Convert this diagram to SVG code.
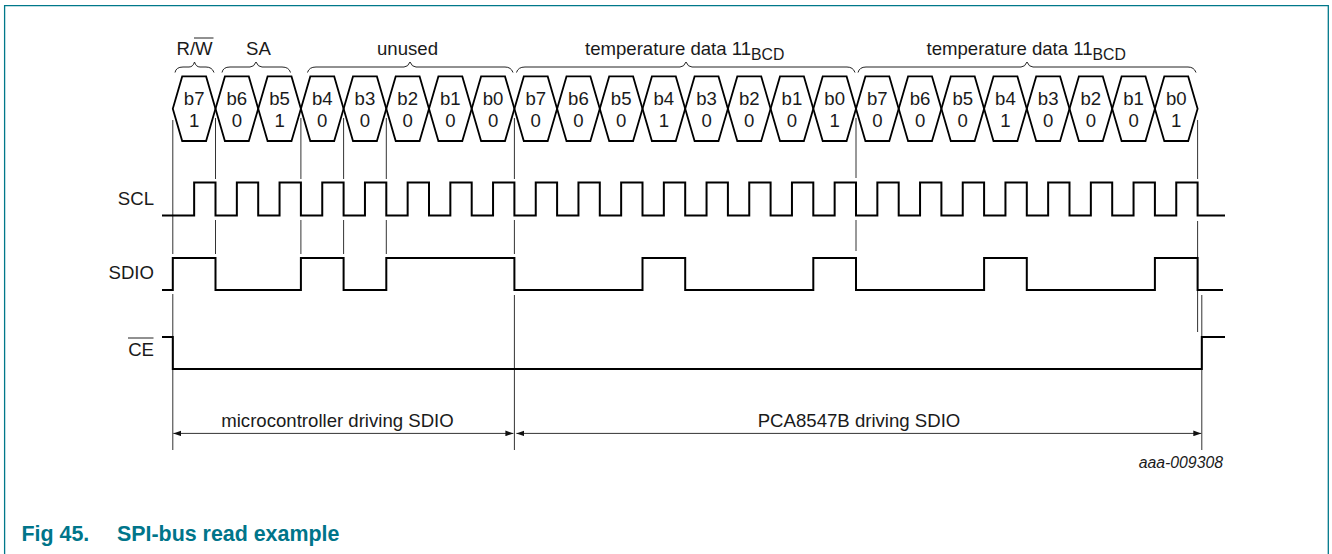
<svg xmlns="http://www.w3.org/2000/svg" width="1332" height="554" viewBox="0 0 1332 554">
<style>
text{font-family:"Liberation Sans",Arial,sans-serif;font-size:18.6px;fill:#1a1a1a}
.b{text-anchor:middle}
.r{text-anchor:end}
.sub{font-size:15.8px}
.sig{fill:none;stroke:#000;stroke-width:2}
.hex{fill:none;stroke:#000;stroke-width:1.8;stroke-linejoin:miter}
.g{fill:none;stroke:#333;stroke-width:1}
.br{fill:none;stroke:#222;stroke-width:1}
.ov{fill:none;stroke:#222;stroke-width:1}
.dim{fill:none;stroke:#333;stroke-width:1}
.frame{fill:none;stroke:#00788a;stroke-width:1.3}
.cap{font-size:21.4px;font-weight:bold;fill:#00758a}
.ref{font-size:15.8px;font-style:italic}
</style>
<defs>
<polygon id="hex" class="hex" points="0,32.3 9.4,0 33.3,0 42.7,32.3 33.3,64.6 9.4,64.6"/>
<marker id="ah" markerUnits="userSpaceOnUse" markerWidth="9" markerHeight="6" refX="8" refY="3" orient="auto-start-reverse"><path d="M0 0.2L8 3L0 5.8Z" fill="#111"/></marker>
</defs>
<path id="frame" class="frame" d="M4.6 554V5.6H1328.3V554"/>
<g id="connectors">
<path class="g" d="M172.8 120V254M172.8 294V450"/>
<path class="g" d="M215.5 118V179M215.5 220V254"/>
<path class="g" d="M300.9 118V179M300.9 220V254"/>
<path class="g" d="M343.6 118V179M343.6 220V254"/>
<path class="g" d="M386.3 118V179M386.3 220V254"/>
<path class="g" d="M514.4 118V179M514.4 220V254M514.4 295V450"/>
<path class="g" d="M856 118V178M856 220V251"/>
<path class="g" d="M1197.6 120V179M1197.6 221V332"/>
<path class="g" d="M1201.8 295V450"/>
<path class="dim" d="M173.3 433.4H513.4" marker-start="url(#ah)" marker-end="url(#ah)"/>
<path class="dim" d="M516.4 433.4H1201.3" marker-start="url(#ah)" marker-end="url(#ah)"/>
<path class="br" d="M175 72.5Q176 67 183 67H189Q193 67 194.5 62Q196 67 200 67H206Q212 67 214 72.5"/>
<path class="br" d="M222 72.5Q223 67 230 67H250Q254 67 256 62Q258 67 262 67H282Q289 67 290.5 72.5"/>
<path class="br" d="M307.5 72.5Q309 67 316 67H404Q408 67 410 62Q412 67 416 67H505Q511 67 513 72.5"/>
<path class="br" d="M516.5 72.5Q518 67 525 67H680Q684 67 686 62Q688 67 692 67H847Q853 67 855 72.5"/>
<path class="br" d="M858 72.5Q859.5 67 866 67H1021Q1025 67 1027 62Q1029 67 1033 67H1188Q1194 67 1196 72.5"/>
</g>
<g id="signal-scl">
<text class="r" x="154" y="205">SCL</text>
<path class="sig" d="M162 215.5H194.15V182.5H215.5V215.5H236.85V182.5H258.2V215.5H279.55V182.5H300.9V215.5H322.25V182.5H343.6V215.5H364.95V182.5H386.3V215.5H407.65V182.5H429V215.5H450.35V182.5H471.7V215.5H493.05V182.5H514.4V215.5H535.75V182.5H557.1V215.5H578.45V182.5H599.8V215.5H621.15V182.5H642.5V215.5H663.85V182.5H685.2V215.5H706.55V182.5H727.9V215.5H749.25V182.5H770.6V215.5H791.95V182.5H813.3V215.5H834.65V182.5H856V215.5H877.35V182.5H898.7V215.5H920.05V182.5H941.4V215.5H962.75V182.5H984.1V215.5H1005.45V182.5H1026.8V215.5H1048.15V182.5H1069.5V215.5H1090.85V182.5H1112.2V215.5H1133.55V182.5H1154.9V215.5H1176.25V182.5H1197.6V215.5H1225"/>
</g>
<g id="signal-sdio">
<text class="r" x="154" y="279">SDIO</text>
<path class="sig" d="M162 290H172.8V258H215.5V290H300.9V258H343.6V290H386.3V258H514.4V290H642.5V258H685.2V290H813.3V258H856V290H984.1V258H1026.8V290H1154.9V258H1197.6V290H1223"/>
</g>
<g id="signal-ce">
<text class="r" x="154" y="356">CE</text>
<path class="ov" d="M128 338H153.5"/>
<path class="sig" d="M162 337H172.8V369H1201.8V337H1225"/>
</g>
<g id="bit-1"><use href="#hex" x="172.8" y="76.4"/><text class="b" x="194.15" y="104.5">b7</text><text class="b" x="194.15" y="127">1</text></g>
<g id="bit-2"><use href="#hex" x="215.5" y="76.4"/><text class="b" x="236.85" y="104.5">b6</text><text class="b" x="236.85" y="127">0</text></g>
<g id="bit-3"><use href="#hex" x="258.2" y="76.4"/><text class="b" x="279.55" y="104.5">b5</text><text class="b" x="279.55" y="127">1</text></g>
<g id="bit-4"><use href="#hex" x="300.9" y="76.4"/><text class="b" x="322.25" y="104.5">b4</text><text class="b" x="322.25" y="127">0</text></g>
<g id="bit-5"><use href="#hex" x="343.6" y="76.4"/><text class="b" x="364.95" y="104.5">b3</text><text class="b" x="364.95" y="127">0</text></g>
<g id="bit-6"><use href="#hex" x="386.3" y="76.4"/><text class="b" x="407.65" y="104.5">b2</text><text class="b" x="407.65" y="127">0</text></g>
<g id="bit-7"><use href="#hex" x="429" y="76.4"/><text class="b" x="450.35" y="104.5">b1</text><text class="b" x="450.35" y="127">0</text></g>
<g id="bit-8"><use href="#hex" x="471.7" y="76.4"/><text class="b" x="493.05" y="104.5">b0</text><text class="b" x="493.05" y="127">0</text></g>
<g id="bit-9"><use href="#hex" x="514.4" y="76.4"/><text class="b" x="535.75" y="104.5">b7</text><text class="b" x="535.75" y="127">0</text></g>
<g id="bit-10"><use href="#hex" x="557.1" y="76.4"/><text class="b" x="578.45" y="104.5">b6</text><text class="b" x="578.45" y="127">0</text></g>
<g id="bit-11"><use href="#hex" x="599.8" y="76.4"/><text class="b" x="621.15" y="104.5">b5</text><text class="b" x="621.15" y="127">0</text></g>
<g id="bit-12"><use href="#hex" x="642.5" y="76.4"/><text class="b" x="663.85" y="104.5">b4</text><text class="b" x="663.85" y="127">1</text></g>
<g id="bit-13"><use href="#hex" x="685.2" y="76.4"/><text class="b" x="706.55" y="104.5">b3</text><text class="b" x="706.55" y="127">0</text></g>
<g id="bit-14"><use href="#hex" x="727.9" y="76.4"/><text class="b" x="749.25" y="104.5">b2</text><text class="b" x="749.25" y="127">0</text></g>
<g id="bit-15"><use href="#hex" x="770.6" y="76.4"/><text class="b" x="791.95" y="104.5">b1</text><text class="b" x="791.95" y="127">0</text></g>
<g id="bit-16"><use href="#hex" x="813.3" y="76.4"/><text class="b" x="834.65" y="104.5">b0</text><text class="b" x="834.65" y="127">1</text></g>
<g id="bit-17"><use href="#hex" x="856" y="76.4"/><text class="b" x="877.35" y="104.5">b7</text><text class="b" x="877.35" y="127">0</text></g>
<g id="bit-18"><use href="#hex" x="898.7" y="76.4"/><text class="b" x="920.05" y="104.5">b6</text><text class="b" x="920.05" y="127">0</text></g>
<g id="bit-19"><use href="#hex" x="941.4" y="76.4"/><text class="b" x="962.75" y="104.5">b5</text><text class="b" x="962.75" y="127">0</text></g>
<g id="bit-20"><use href="#hex" x="984.1" y="76.4"/><text class="b" x="1005.45" y="104.5">b4</text><text class="b" x="1005.45" y="127">1</text></g>
<g id="bit-21"><use href="#hex" x="1026.8" y="76.4"/><text class="b" x="1048.15" y="104.5">b3</text><text class="b" x="1048.15" y="127">0</text></g>
<g id="bit-22"><use href="#hex" x="1069.5" y="76.4"/><text class="b" x="1090.85" y="104.5">b2</text><text class="b" x="1090.85" y="127">0</text></g>
<g id="bit-23"><use href="#hex" x="1112.2" y="76.4"/><text class="b" x="1133.55" y="104.5">b1</text><text class="b" x="1133.55" y="127">0</text></g>
<g id="bit-24"><use href="#hex" x="1154.9" y="76.4"/><text class="b" x="1176.25" y="104.5">b0</text><text class="b" x="1176.25" y="127">1</text></g>
<g id="label-rw"><text x="176.5" y="55">R/W</text><path class="ov" d="M194 38H213.5"/></g>
<g id="label-sa"><text class="b" x="258.5" y="55">SA</text></g>
<g id="label-unused"><text class="b" x="407.5" y="55">unused</text></g>
<g id="label-temp1"><text x="585" y="55">temperature data 11<tspan class="sub" dy="5">BCD</tspan></text></g>
<g id="label-temp2"><text x="926.5" y="55">temperature data 11<tspan class="sub" dy="5">BCD</tspan></text></g>
<g id="label-mcu"><text class="b" x="337.5" y="426.5">microcontroller driving SDIO</text></g>
<g id="label-pca"><text class="b" x="859" y="426.5">PCA8547B driving SDIO</text></g>
<g id="label-ref"><text class="ref r" x="1223" y="468">aaa-009308</text></g>
<g id="caption"><text class="cap" x="21.5" y="541">Fig 45.</text><text class="cap" x="117" y="541">SPI-bus read example</text></g>
</svg>
